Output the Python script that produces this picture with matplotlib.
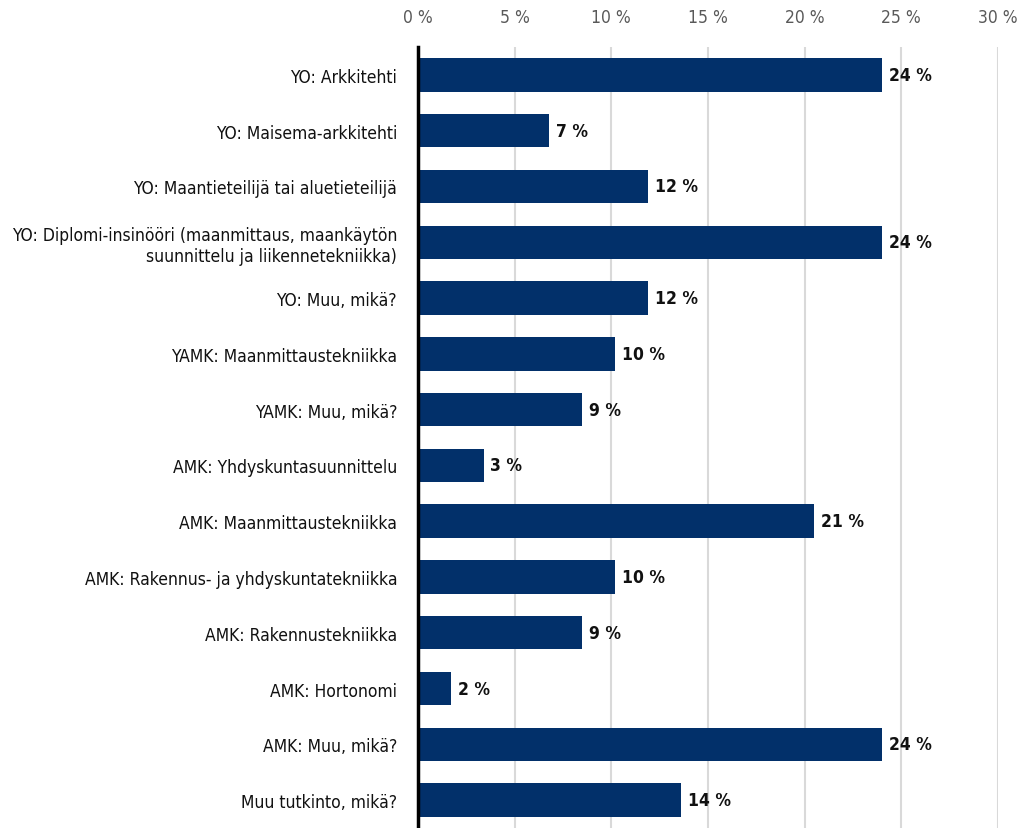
import numpy as np
import matplotlib.pyplot as plt
from matplotlib.ticker import FuncFormatter

categories = [
    "YO: Arkkitehti",
    "YO: Maisema-arkkitehti",
    "YO: Maantieteilijä tai aluetieteilijä",
    "YO: Diplomi-insinööri (maanmittaus, maankäytön\nsuunnittelu ja liikennetekniikka)",
    "YO: Muu, mikä?",
    "YAMK: Maanmittaustekniikka",
    "YAMK: Muu, mikä?",
    "AMK: Yhdyskuntasuunnittelu",
    "AMK: Maanmittaustekniikka",
    "AMK: Rakennus- ja yhdyskuntatekniikka",
    "AMK: Rakennustekniikka",
    "AMK: Hortonomi",
    "AMK: Muu, mikä?",
    "Muu tutkinto, mikä?",
]
values = [24.0, 6.8, 11.9, 24.0, 11.9, 10.2, 8.5, 3.4, 20.5, 10.2, 8.5, 1.7, 24.0, 13.6]

plt.rcParams['font.family'] = ['DejaVu Sans']
plt.rcParams['font.stretch'] = 'condensed'

fig = plt.figure(figsize=(10.25, 8.29), dpi=100)
ax = fig.add_axes([418 / 1025, 0.0, 580 / 1025, 1 - 48 / 829])

y = np.arange(len(categories))
ax.barh(y, values, height=0.6, color="#02306a", zorder=3)

# value labels, rounded half up
for yi, v in zip(y, values):
    ax.text(v + 0.35, yi, f"{int(v + 0.5)} %", va="center", ha="left",
            fontsize=12.5, fontweight="bold", color="#111111")

ax.set_yticks(y)
ax.set_yticklabels(categories, fontsize=12.5, color="#111111")
ax.set_ylim(len(categories) - 0.5, -0.5)
ax.set_xlim(0, 30)
ax.set_xticks(np.arange(0, 31, 5))
ax.xaxis.set_major_formatter(FuncFormatter(lambda x, p: f"{int(x)} %"))
ax.xaxis.tick_top()
ax.tick_params(axis="x", length=0, labelsize=12.5, labelcolor="#595959", pad=15)
ax.tick_params(axis="y", length=0, pad=15)
ax.grid(axis="x", color="#d9d9d9", linewidth=1.5, zorder=0)

for s in ["top", "right", "bottom"]:
    ax.spines[s].set_visible(False)
ax.spines["left"].set_linewidth(2.5)
ax.spines["left"].set_color("black")
ax.spines["left"].set_zorder(4)

fig.savefig("out.png", dpi=100)
